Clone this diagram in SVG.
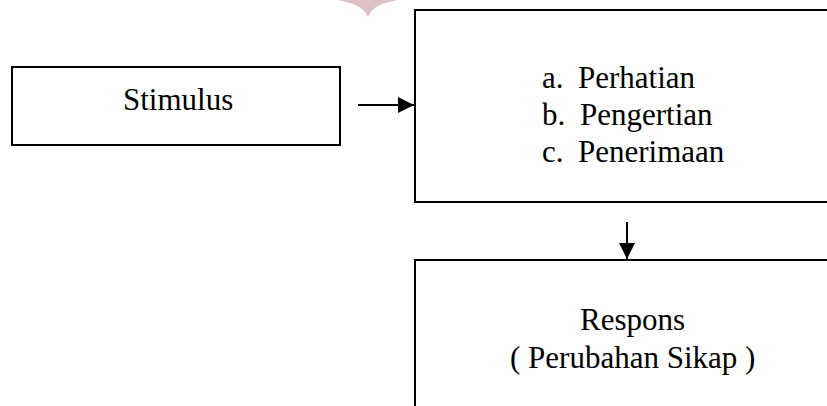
<svg xmlns="http://www.w3.org/2000/svg" width="827" height="406" viewBox="0 0 827 406">
<style>
.box{fill:#fff;stroke:#000;stroke-width:2}
.t{font-family:"Liberation Serif","Times New Roman",serif;font-size:31px;fill:#000}
.c{stroke:#000;stroke-width:2;fill:none}
</style>
<defs>
<marker id="ah" markerWidth="16" markerHeight="16" viewBox="0 0 16 16" refX="16" refY="8" orient="auto" markerUnits="userSpaceOnUse">
<path d="M0,0 L16,8 L0,16 Z" fill="#000"/>
</marker>
</defs>
<rect width="827" height="406" fill="#fff"/>
<path d="M338,0 C352,3 363,6 368,17 C372,6 384,3 397,0 Z" fill="#dcc0c4"/>
<g id="stimulus">
<rect class="box" x="12" y="67" width="328" height="78"/>
<text class="t" x="123" y="110">Stimulus</text>
</g>
<g id="proses">
<rect class="box" x="415" y="10" width="420" height="192" stroke="#1a1a1a"/>
<text class="t" y="88"><tspan x="542">a.</tspan><tspan x="578">Perhatian</tspan></text>
<text class="t" y="125"><tspan x="542">b.</tspan><tspan x="580">Pengertian</tspan></text>
<text class="t" y="162"><tspan x="542">c.</tspan><tspan x="578">Penerimaan</tspan></text>
</g>
<g id="respons">
<rect class="box" x="415" y="260" width="420" height="160"/>
<text class="t" x="580" y="330">Respons</text>
<text class="t" x="510" y="368">( Perubahan Sikap )</text>
</g>
<g id="connectors">
<line class="c" x1="358" y1="105" x2="414" y2="105" marker-end="url(#ah)"/>
<line class="c" x1="627" y1="222" x2="627" y2="259" marker-end="url(#ah)"/>
</g>
</svg>
